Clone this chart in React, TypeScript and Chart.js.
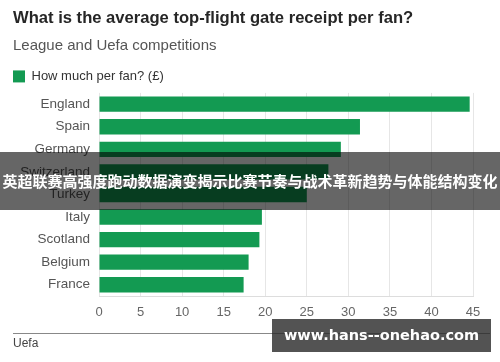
import React, { useEffect, useRef } from "react";
import { Chart, registerables } from "chart.js";

Chart.register(...registerables);

const countries = ["England", "Spain", "Germany", "Switzerland", "Turkey", "Italy", "Scotland", "Belgium", "France"];
const perFan = [44.6, 31.4, 29.1, 27.6, 25.0, 19.6, 19.3, 18.0, 17.4];
const xTicks = [0, 5, 10, 15, 20, 25, 30, 35, 40, 45];
const seriesLabel = "How much per fan? (£)";
const titleText = "What is the average top-flight gate receipt per fan?";
const subtitleText = "League and Uefa competitions";
const sourceText = "Uefa";
const bannerText = "英超联赛高强度跑动数据演变揭示比赛节奏与战术革新趋势与体能结构变化";
const watermarkText = "www.hans--onehao.com";

const GREEN = "#139a52";
const FONT = "'Liberation Sans', Arial, sans-serif";

const legendShift = {
  id: "legendShift",
  afterLayout(chart: any) {
    if (chart.legend) chart.legend.left = -2;
  },
};

export default function App() {
  const ref = useRef<HTMLCanvasElement | null>(null);

  useEffect(() => {
    document.body.style.margin = "0";
    const ctx = ref.current!.getContext("2d")!;
    const chart = new Chart(ctx, {
      type: "bar",
      data: {
        labels: countries,
        datasets: [
          {
            label: seriesLabel,
            data: perFan,
            backgroundColor: GREEN,
            borderWidth: 0,
            barPercentage: 0.68,
            categoryPercentage: 1,
          },
        ],
      },
      plugins: [legendShift],
      options: {
        indexAxis: "y",
        animation: false,
        responsive: false,
        devicePixelRatio: 1,
        layout: { padding: { left: 13, right: 27, top: 0, bottom: 40 } },
        plugins: {
          title: {
            display: true,
            text: titleText,
            align: "start",
            color: "#262626",
            font: { family: FONT, size: 16.6, weight: "bold" },
            padding: { top: 8, bottom: 0 },
          },
          subtitle: {
            display: true,
            text: subtitleText,
            align: "start",
            color: "#555555",
            font: { family: FONT, size: 15 },
            padding: { top: 9, bottom: 0 },
          },
          legend: {
            display: true,
            align: "start",
            labels: {
              boxWidth: 12,
              boxHeight: 12,
              padding: 15,
              color: "#333333",
              font: { family: FONT, size: 13 },
            },
          },
          tooltip: { enabled: false },
        },
        scales: {
          x: {
            min: 0,
            max: 45,
            afterBuildTicks: (s: any) => {
              s.ticks = xTicks.map((v) => ({ value: v }));
            },
            afterFit: (s: any) => {
              s.height = 26;
            },
            grid: { color: "#e6e6e6", drawTicks: false },
            border: { color: "#dddddd" },
            ticks: { color: "#666666", padding: 9, font: { family: FONT, size: 13 } },
          },
          y: {
            afterFit: (s: any) => {
              s.width = 86;
            },
            grid: { display: false, drawTicks: false },
            border: { display: false },
            ticks: { color: "#555555", padding: 9, font: { family: FONT, size: 13.5 } },
          },
        },
      },
    });
    return () => chart.destroy();
  }, []);

  return (
    <div style={{ position: "absolute", left: 0, top: 0, width: 500, height: 362, background: "#fff", overflow: "hidden" }}>
      <canvas ref={ref} width={500} height={362} style={{ position: "absolute", left: 0, top: 0 }} />
      <div style={{ position: "absolute", left: 13, top: 333, width: 477, height: 0, borderTop: "1px solid #888" }} />
      <div style={{ position: "absolute", left: 13, top: 335, fontFamily: FONT, fontSize: 12, color: "#444", lineHeight: "16px" }}>
        {sourceText}
      </div>
      <div
        style={{
          position: "absolute",
          left: 0,
          top: 152,
          width: 500,
          height: 58,
          background: "rgba(0,0,0,0.6)",
          color: "#fff",
          fontFamily: "'Noto Sans CJK SC', sans-serif",
          fontWeight: "bold",
          fontSize: 15,
          lineHeight: "58px",
          textAlign: "center",
          whiteSpace: "nowrap",
        }}
      >
        {bannerText}
      </div>
      <div
        style={{
          position: "absolute",
          left: 272,
          top: 319,
          width: 219,
          height: 33,
          background: "rgba(40,40,40,0.8)",
          color: "#fff",
          fontFamily: "'DejaVu Sans', sans-serif",
          fontWeight: "bold",
          fontSize: 14.5,
          lineHeight: "33px",
          textAlign: "center",
          whiteSpace: "nowrap",
        }}
      >
        {watermarkText}
      </div>
    </div>
  );
}
